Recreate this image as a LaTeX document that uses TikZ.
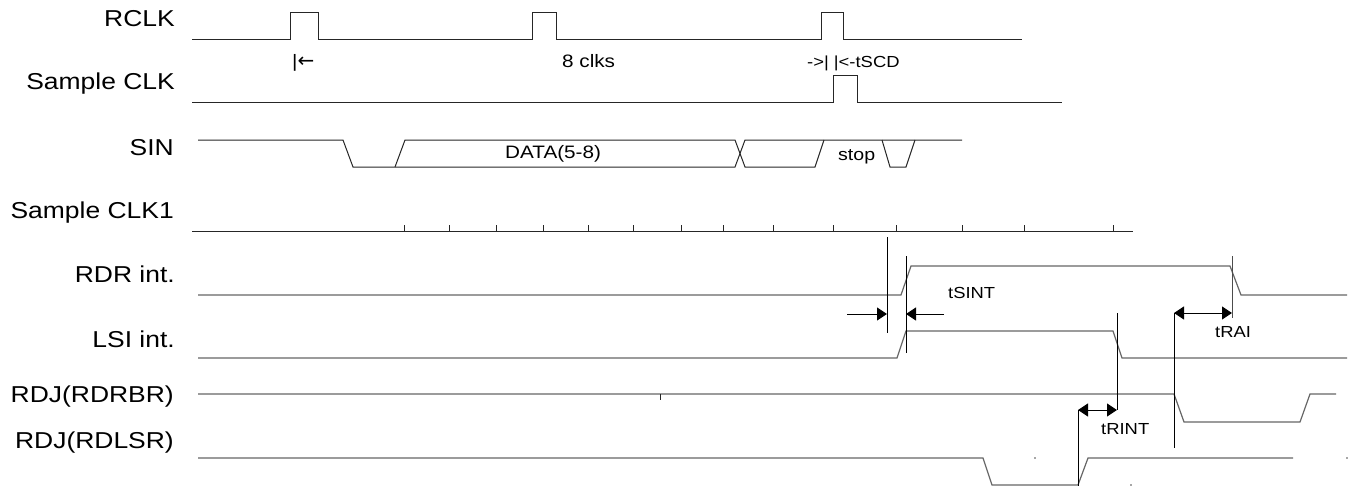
\documentclass[tikz,border=0pt]{standalone}
\usepackage{fontspec}
\setmainfont[FakeStretch=1.15]{Liberation Sans}
\newfontfamily\symfnt{DejaVu Sans}
\usetikzlibrary{arrows.meta}
\begin{document}
\begin{tikzpicture}[x=1pt,y=-1pt,
  sig/.style={line width=1pt,black!85},
  sigg/.style={line width=1.2pt,black!60},
  vline/.style={line width=1pt,black},
  arr/.style={line width=1pt,black,-{Triangle[length=10pt,width=13pt]}},
  darr/.style={line width=1pt,black,{Triangle[length=10pt,width=13pt]}-{Triangle[length=10pt,width=13pt]}},
  lbl/.style={inner sep=0pt,anchor=base east,font=\fontsize{23}{23}\selectfont},
  sml/.style={inner sep=0pt,anchor=base west,font=\fontsize{18}{18}\selectfont},
  tml/.style={inner sep=0pt,anchor=base west,font=\fontsize{16}{16}\selectfont}]
\useasboundingbox (0,0) rectangle (1353,487);
% signal labels
\node[lbl] (lrclk) at (175,27) {RCLK};
\node[lbl] (lsclk) at (175,90) {Sample CLK};
\node[lbl] (lsin) at (174,155) {SIN};
\node[lbl] (lsclk1) at (174,218) {Sample CLK1};
\node[lbl] (lrdr) at (175,282) {RDR int.};
\node[lbl] (llsi) at (175,347) {LSI int.};
\node[lbl] (lrdrbr) at (174,402) {RDJ(RDRBR)};
\node[lbl] (lrdlsr) at (174,448) {RDJ(RDLSR)};
% RCLK
\draw[sig] (192,40) -- (290,40) -- (290,13) -- (318,13) -- (318,40) -- (532,40) -- (532,13) -- (556,13) -- (556,40) -- (821,40) -- (821,13) -- (843,13) -- (843,40) -- (1022,40);
\node[sml] (a1) at (292,67) {|{\symfnt\fontsize{20}{20}\selectfont ←}};
\node[sml] (a2) at (562,68) {8 clks};
\node[tml] (a3) at (807,68) {->| |<-tSCD};
% Sample CLK
\draw[sig] (192,103) -- (833,103) -- (833,76) -- (857,76) -- (857,103) -- (1062,103);
% SIN
\draw[sig] (198,140) -- (343,140) -- (353,167) -- (735,167) -- (745,140) -- (962,140);
\draw[sig] (395,167) -- (405,140) -- (735,140) -- (745,167) -- (815,167) -- (824,140);
\draw[sig] (882,140) -- (890,167) -- (906,167) -- (915,140);
\node[sml] (data) at (505,158) {DATA(5-8)};
\node[inner sep=0pt,anchor=base west,font=\fontsize{17}{17}\selectfont] (stop) at (838,160) {stop};
% Sample CLK1
\draw[sig] (192,231) -- (1133,231);
\foreach \t in {404,449,496,543,588,633,681,723,773,833,896,962,1024,1113}
  \draw[sig] (\t,231) -- (\t,225);
% RDR int.
\draw[sigg] (198,295) -- (901,295) -- (911,266) -- (1230,266) -- (1241,295) -- (1347,295);
% LSI int.
\draw[sigg] (198,358) -- (897,358) -- (906,331) -- (1113,331) -- (1122,358) -- (1347,358);
% RDJ(RDRBR)
\draw[sigg] (198,394) -- (1174,394) -- (1184,422) -- (1300,422) -- (1310,394) -- (1336,394);
\draw[sig] (660,394) -- (660,400);
% RDJ(RDLSR)
\draw[sigg] (198,458) -- (983,458) -- (992,485) -- (1078,485) -- (1088,458) -- (1293,458);
\fill[black!70] (1035,458) circle (0.9pt) (1131,485) circle (0.9pt) (1347,458) circle (0.9pt);
% markers
\coordinate (m1t) at (887,237); \coordinate (m1b) at (887,333);
\coordinate (m2t) at (906,256); \coordinate (m2b) at (906,353);
\coordinate (m3t) at (1232,256); \coordinate (m3b) at (1232,318);
\coordinate (m4t) at (1174,313); \coordinate (m4b) at (1174,448);
\coordinate (m5t) at (1117,313); \coordinate (m5b) at (1117,410);
\coordinate (m6t) at (1078,410); \coordinate (m6b) at (1078,486);
\draw[vline] (m1t) -- (m1b);
\draw[vline] (m2t) -- (m2b);
\draw[vline,black!70] (m3t) -- (m3b);
\draw[vline] (m4t) -- (m4b);
\draw[vline] (m5t) -- (m5b);
\draw[vline] (m6t) -- (m6b);
% timing arrows
\coordinate (s1) at (847,314); \coordinate (s1e) at (887,314);
\coordinate (s2) at (944,314); \coordinate (s2e) at (906,314);
\draw[arr] (s1) -- (s1e);
\draw[arr] (s2) -- (s2e);
\draw[darr] (m4t) -- (1232,313);
\draw[darr] (m6t) -- (m5b);
\node[tml] (tsint) at (948,298) {tSINT};
\node[tml] (trai) at (1215,337) {tRAI};
\node[tml] (trint) at (1101,434) {tRINT};
\end{tikzpicture}
\end{document}
